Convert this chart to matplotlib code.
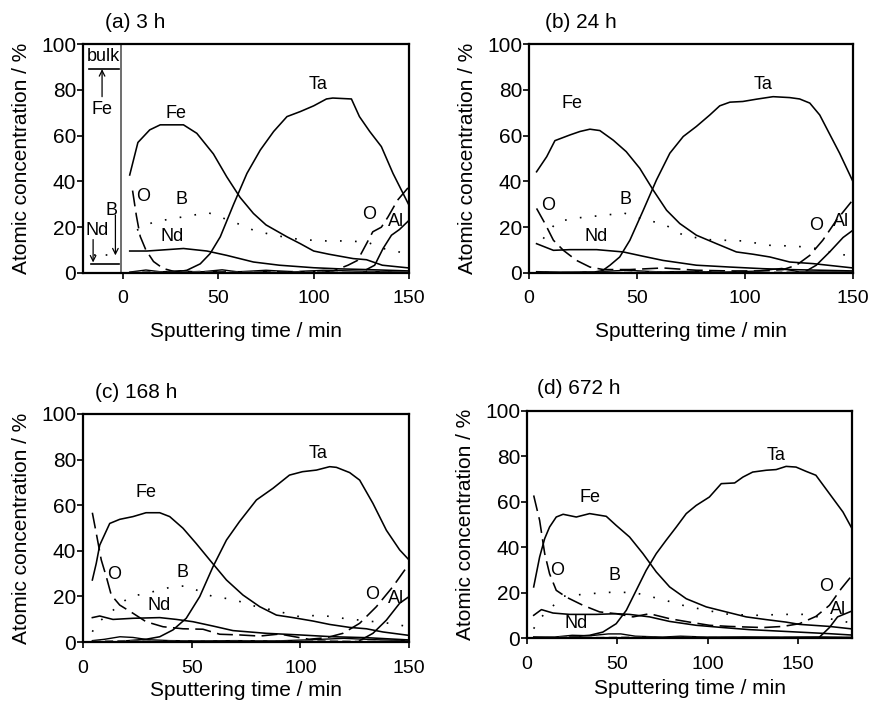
import matplotlib
matplotlib.use("Agg")
import matplotlib.pyplot as plt

plt.rcParams['font.family'] = ['Liberation Sans', 'DejaVu Sans']

# ---------------- Panel (a) 3 h ----------------
a_fe_t = [3.5, 7.8, 14, 19.5, 31.7, 38.7, 47.4, 54.4, 61.4, 68.4, 75, 86, 93, 100, 108, 120.7, 127.7, 136, 150]
a_fe_c = [42.8, 57, 62.5, 64.7, 64.7, 61, 52, 42, 33, 26, 21, 15.8, 12.8, 9.6, 8.2, 6.3, 5.8, 3.4, 2.2]
a_ta_t = [20, 27, 33.5, 40.5, 45.7, 51, 58, 65, 72, 79, 86, 93, 100, 106.7, 110, 119.8, 124, 129.4, 135.5, 141.6, 150]
a_ta_c = [0.5, 0.3, 1.2, 4, 8.5, 15.8, 30, 43.5, 53.7, 61.8, 68.3, 70.5, 73, 76, 76.4, 76, 68.3, 61.8, 55.2, 43.5, 29.6]
a_o_t = [5, 7, 9, 12, 16, 21, 27, 35, 50, 70, 90, 110, 118, 123, 127.7, 131, 135.5, 139, 144, 150]
a_o_c = [36, 25, 16, 10, 5, 2, 0.6, 0.4, 0.6, 0.5, 0.6, 0.8, 3.4, 5.5, 12.8, 18, 20, 24.5, 31.8, 37.7]
a_al_t = [127.7, 132, 136.4, 140.8, 145, 150]
a_al_c = [1.5, 3.4, 10.7, 16.5, 19, 23]
a_b_t = [7.3, 16, 26.5, 37, 44.8, 58, 68.4, 79, 93, 106.7, 115.5, 127.7, 136.4, 148.6]
a_b_c = [18.7, 22.3, 23.8, 25.3, 26.3, 22.3, 18.7, 16.5, 14.6, 14, 14, 13.6, 10.7, 8.5]
a_nd_t = [3.5, 12.6, 31.7, 44, 54.4, 68.4, 82, 100, 113.7, 127.7, 150]
a_nd_c = [9.6, 9.6, 10.7, 9.6, 7.7, 4.8, 3.4, 2.3, 1.8, 1.5, 0.9]
a_m1_t = [3.5, 12, 20, 30, 40, 52, 60, 75, 90, 105, 120, 135, 150]
a_m1_c = [0.4, 1.3, 0.5, 1.0, 0.4, 1.4, 0.5, 1.2, 0.5, 1.2, 0.9, 0.6, 0.3]
a_m2_t = [3.5, 15, 28, 40, 55, 70, 85, 100, 115, 130, 150]
a_m2_c = [0.2, 0.6, 0.2, 0.7, 0.3, 0.6, 0.2, 0.6, 0.3, 0.5, 0.2]
a_bulk_fe = 89
a_bulk_nd = 4.1
a_bulk_b = 7.7

# ---------------- Panel (b) 24 h ----------------
b_fe_t = [3.5, 8.2, 12, 19, 23.6, 28.2, 32.8, 39, 45, 51.3, 57.5, 63.7, 69.8, 77.5, 86.8, 96, 103.7, 111.5, 120.7, 131.5, 150]
b_fe_c = [44.2, 50.8, 57.8, 60.3, 61.8, 62.8, 62.2, 58, 53, 45.7, 36.2, 27.4, 21.6, 16.5, 12.8, 9.2, 8.2, 7, 4.8, 4.1, 2.2]
b_ta_t = [24, 30, 34, 37.5, 42, 46.7, 52.9, 59, 65.2, 71.4, 77.5, 83.7, 88.3, 93, 99, 105.3, 113, 120.7, 125.3, 130, 134.6, 139, 143.8, 150]
b_ta_c = [0.3, 0.4, 1.0, 3.4, 7, 14.3, 27.4, 40.6, 52.3, 59.6, 64, 69, 73, 74.6, 74.9, 75.9, 77, 76.6, 76, 74.2, 69, 61, 52.3, 39.9]
b_o_t = [3.5, 7.4, 11.3, 15.9, 22, 28.2, 34.4, 46.7, 62, 77.5, 93, 108, 117.6, 123.8, 130, 136, 142.3, 150]
b_o_c = [28.2, 21.6, 14.3, 9.9, 5.5, 2.6, 1.5, 1.5, 2.2, 1.2, 0.9, 0.9, 1.5, 3.4, 7.7, 14.3, 23, 32]
b_al_t = [128.4, 133, 139.2, 145.4, 150]
b_al_c = [0.9, 3.4, 9.2, 15.5, 18.7]
b_b_t = [6.6, 12.8, 20.5, 26.7, 36, 43.6, 54.4, 62, 71.4, 82, 99, 111.5, 123.8, 133, 142, 150]
b_b_c = [15, 22.3, 23.8, 24.5, 25.3, 26.3, 23, 21.6, 16.5, 14.6, 14, 12.1, 11.7, 10.7, 8.5, 7.3]
b_nd_t = [3.5, 11.3, 19, 31.3, 43.6, 52.9, 62, 77.5, 93, 108, 120.7, 150]
b_nd_c = [12.8, 9.9, 10.2, 10.2, 9.2, 7.3, 5.5, 3.4, 2.6, 1.9, 1.5, 0.9]
b_m1_t = [3.5, 15, 30, 45, 60, 75, 90, 105, 117, 125, 150]
b_m1_c = [0.6, 0.4, 0.5, 1.2, 0.5, 0.7, 0.4, 0.8, 2.0, 0.5, 0.4]
b_m2_t = [3.5, 20, 40, 55, 70, 85, 100, 120, 150]
b_m2_c = [0.2, 0.4, 0.2, 0.5, 0.2, 0.4, 0.2, 0.4, 0.2]

# ---------------- Panel (c) 168 h ----------------
c_fe_t = [4.3, 6.1, 7.7, 12.3, 16.9, 23, 29, 35.3, 39.9, 46, 52, 58.3, 66, 73.6, 81.3, 89, 96.6, 105.8, 113.5, 122.7, 130.4, 138, 150]
c_fe_c = [27.2, 34.5, 42.5, 52, 53.8, 55, 56.7, 56.7, 55, 49.9, 43.3, 36, 27.2, 20.6, 15.5, 11.8, 10.7, 9.2, 7.7, 6.4, 5.8, 4.4, 2.9]
c_ta_t = [20, 29, 35.3, 41.4, 47.5, 53.7, 59.8, 66, 72, 79.8, 87.4, 95, 101, 107.4, 113.5, 116.6, 122.7, 127.3, 133.4, 139.6, 145.7, 150]
c_ta_c = [0.5, 1.2, 2.3, 5.3, 10.4, 19.9, 33, 44.7, 52.8, 62.3, 67.4, 73.2, 74.7, 75.4, 76.9, 76.6, 74.3, 71, 60.8, 49, 40.4, 36]
c_o_t = [4.3, 6.4, 8.4, 10.7, 13, 16.9, 23, 29, 36.8, 46, 55.2, 62.9, 72, 81.3, 90.5, 99.7, 104, 112, 119.6, 127.3, 135, 142.6, 150]
c_o_c = [56.7, 46.2, 36, 28.7, 20.6, 16.2, 12.6, 8.9, 6.7, 5.8, 5.6, 3.4, 3.1, 2.6, 3.5, 1.9, 1.2, 1.9, 3.8, 8.2, 15.5, 24.3, 34.2]
c_al_t = [127.3, 133.4, 139.6, 145.7, 150]
c_al_c = [0.6, 3.8, 9.6, 17, 19.9]
c_b_t = [4.3, 6.5, 21.5, 29, 41.4, 47.5, 59.8, 69, 79.8, 87.4, 99.7, 109, 119.6, 127.3, 141, 150]
c_b_c = [4.5, 8.2, 19.9, 21.3, 24.3, 24.6, 19.9, 18.7, 15.5, 14, 11.1, 11.8, 10.4, 9.6, 8.2, 6.7]
c_nd_t = [4.3, 7.7, 13.8, 23, 35.3, 43, 50.6, 59.8, 69, 84.4, 99.7, 115, 130.4, 150]
c_nd_c = [10.7, 11.4, 9.9, 10.4, 10.7, 9.9, 8.9, 7, 5, 3.8, 3.1, 2.3, 1.9, 0.9]
c_m1_t = [4.3, 10, 17, 23, 30, 40, 55, 70, 90, 105, 120, 135, 150]
c_m1_c = [0.6, 1.2, 2.3, 2.0, 1.0, 0.6, 0.5, 0.6, 0.5, 1.0, 1.6, 1.0, 0.6]
c_m2_t = [4.3, 20, 35, 50, 65, 80, 95, 110, 125, 150]
c_m2_c = [0.3, 0.6, 0.3, 0.5, 0.3, 0.5, 0.3, 0.5, 0.3, 0.3]

# ---------------- Panel (d) 672 h ----------------
d_fe_t = [3.7, 7, 9.8, 12.5, 16.2, 20, 27.3, 34.7, 43.9, 49.4, 56.8, 64.2, 71.6, 79, 88.2, 99.3, 110.3, 121.4, 132.5, 143.5, 150.9, 158.3, 167.5, 180]
d_fe_c = [22.5, 35.7, 43.8, 48.9, 53.3, 54.5, 53.3, 54.8, 53.6, 49.6, 44.5, 37.2, 29.1, 22.5, 17.3, 13.7, 11.5, 9.3, 8.1, 7, 6, 5.6, 5.1, 4]
d_ta_t = [23.6, 34.7, 42, 49.4, 55, 60.5, 66, 71.6, 77, 82.7, 88.2, 93.7, 101, 107.6, 115, 119.6, 125, 132.5, 138, 143.5, 149, 154.6, 160, 167.5, 175, 180]
d_ta_c = [0.4, 1.2, 2.6, 6.3, 12.2, 21, 29.8, 37.2, 43, 48.9, 54.8, 58.4, 62.1, 68, 68.3, 70.9, 73.1, 73.9, 74.2, 75.6, 75.3, 73.4, 71.7, 63.6, 55.5, 48.2]
d_o_t = [3.7, 7, 9.8, 12.5, 16.2, 21.8, 31, 40.2, 49.4, 58.7, 67.9, 79, 90, 101, 112, 123, 130.6, 141.7, 150.9, 160, 167.5, 174, 180]
d_o_c = [62.8, 51.8, 37.2, 28.3, 21, 18, 14.4, 11.5, 10.7, 9.3, 10.7, 8.5, 7, 5.6, 5.1, 4.8, 4.6, 5.1, 6.3, 9.5, 14.4, 21.7, 27.6]
d_al_t = [162, 167.5, 172, 180]
d_al_c = [0.4, 4.6, 9.3, 11.9]
d_b_t = [3.7, 7, 20, 34.7, 49.4, 60.5, 75.3, 86.3, 99.3, 112, 127, 141.7, 152.8, 167.5, 180]
d_b_c = [4.1, 8.5, 18.4, 19.5, 20.3, 19.8, 16.9, 14.4, 12.2, 10.4, 10, 10.4, 10.4, 8.5, 6.6]
d_nd_t = [3.7, 8, 14.4, 23.6, 38.4, 49.4, 56.8, 67.9, 79, 93.7, 108.5, 123, 138, 152.8, 167.5, 180]
d_nd_c = [10, 12.5, 11, 10.4, 10.4, 10.7, 10.4, 9.3, 7.3, 5.6, 4.6, 3.7, 3.1, 2.5, 1.9, 1.3]
d_m1_t = [3.7, 15, 25, 35, 45, 52, 60, 75, 85, 100, 120, 140, 160, 180]
d_m1_c = [0.5, 0.4, 1.2, 1.0, 1.8, 1.8, 0.8, 0.4, 0.8, 0.4, 0.5, 0.4, 0.5, 0.3]
d_m2_t = [3.7, 20, 40, 60, 80, 100, 120, 140, 160, 180]
d_m2_c = [0.2, 0.5, 0.2, 0.4, 0.2, 0.4, 0.2, 0.3, 0.2, 0.2]

titles = ["(a) 3 h", "(b) 24 h", "(c) 168 h", "(d) 672 h"]
xlims = [(-21, 150), (0, 150), (0, 150), (0, 180)]
xticks = [[0, 50, 100, 150], [0, 50, 100, 150], [0, 50, 100, 150], [0, 50, 100, 150]]
yticks = [0, 20, 40, 60, 80, 100]

W, H = 871, 702
fig = plt.figure(figsize=(W / 100, H / 100), dpi=100)

def rect(l, r, t, b):
    return [l / W, 1 - b / H, (r - l) / W, (b - t) / H]

axes_px = [(83, 409, 44, 273), (529, 853, 44, 273), (83, 409, 414, 642), (527, 852, 411, 638)]
title_px = [(105, 22), (545, 22), (95, 392), (537, 388)]
xtick_pad = [8, 8, 9, 9]
xlabel_pad = [11, 11, 3, 4]

panels = [
    dict(fe=(a_fe_t, a_fe_c), ta=(a_ta_t, a_ta_c), o=(a_o_t, a_o_c), al=(a_al_t, a_al_c),
         b=(a_b_t, a_b_c), nd=(a_nd_t, a_nd_c), m1=(a_m1_t, a_m1_c), m2=(a_m2_t, a_m2_c),
         labels=[("Fe", 27.9, 69.8), ("Ta", 102.4, 82.2), ("O", 10.8, 33.3), ("B", 30.9, 32),
                 ("Nd", 25.6, 15.8), ("O", 129, 25.7), ("Al", 143.4, 22.3)]),
    dict(fe=(b_fe_t, b_fe_c), ta=(b_ta_t, b_ta_c), o=(b_o_t, b_o_c), al=(b_al_t, b_al_c),
         b=(b_b_t, b_b_c), nd=(b_nd_t, b_nd_c), m1=(b_m1_t, b_m1_c), m2=(b_m2_t, b_m2_c),
         labels=[("Fe", 19.7, 73.9), ("Ta", 108.4, 82.2), ("O", 8.9, 29.6), ("B", 44.9, 32.1),
                 ("Nd", 31.3, 15.8), ("O", 133, 20.9), ("Al", 144.6, 22.3)]),
    dict(fe=(c_fe_t, c_fe_c), ta=(c_ta_t, c_ta_c), o=(c_o_t, c_o_c), al=(c_al_t, c_al_c),
         b=(c_b_t, c_b_c), nd=(c_nd_t, c_nd_c), m1=(c_m1_t, c_m1_c), m2=(c_m2_t, c_m2_c),
         labels=[("Fe", 29.1, 65.5), ("Ta", 108.1, 82.5), ("O", 14.3, 29.4), ("B", 45.7, 30.6),
                 ("Nd", 35, 15.8), ("O", 133.1, 21), ("Al", 144.2, 19.2)]),
    dict(fe=(d_fe_t, d_fe_c), ta=(d_ta_t, d_ta_c), o=(d_o_t, d_o_c), al=(d_al_t, d_al_c),
         b=(d_b_t, d_b_c), nd=(d_nd_t, d_nd_c), m1=(d_m1_t, d_m1_c), m2=(d_m2_t, d_m2_c),
         labels=[("Fe", 34.7, 61.7), ("Ta", 138, 80.5), ("O", 16.8, 29.8), ("B", 48.5, 27.6),
                 ("Nd", 27.3, 6.3), ("O", 165.7, 22.8), ("Al", 172, 12.5)]),
]

lw = 1.15
for i, p in enumerate(panels):
    ax = fig.add_axes(rect(*axes_px[i]))
    ax.plot(*p["fe"], color="black", lw=lw)
    ax.plot(*p["ta"], color="black", lw=lw)
    ax.plot(*p["nd"], color="black", lw=lw)
    ax.plot(*p["al"], color="black", lw=lw)
    ax.plot(*p["o"], color="black", lw=lw, linestyle=(0, (10, 4)))
    ax.plot(*p["b"], color="black", lw=1.2, linestyle=(0, (1, 8)))
    ax.plot(*p["m1"], color="black", lw=1.0)
    ax.plot(*p["m2"], color="#444444", lw=1.0, linestyle=(0, (6, 3)))
    for txt, x, y in p["labels"]:
        ax.text(x, y, txt, fontsize=13, ha="center", va="center")
    ax.set_xlim(*xlims[i])
    ax.set_ylim(0, 100)
    ax.set_xticks(xticks[i])
    ax.set_yticks(yticks)
    ax.tick_params(axis="both", direction="out", length=4, width=1.2)
    ax.tick_params(axis="x", pad=xtick_pad[i], labelsize=14)
    ax.tick_params(axis="y", pad=1, labelsize=15)
    for s in ax.spines.values():
        s.set_linewidth(1.6)
    ax.set_xlabel("Sputtering time / min", fontsize=15, labelpad=xlabel_pad[i])
    ax.set_ylabel("Atomic concentration / %", fontsize=15, labelpad=7)
    fig.text(title_px[i][0] / W, 1 - title_px[i][1] / H, titles[i], fontsize=15,
             ha="left", va="center")
    if i == 0:
        # bulk composition box
        ax.axvline(-1, color="#555555", lw=1.2)
        ax.plot([-18, -2.3], [a_bulk_fe, a_bulk_fe], color="black", lw=1.2)
        ax.plot([-16.7, -2.3], [a_bulk_nd, a_bulk_nd], color="black", lw=1.2)
        ax.plot([-15, -5], [a_bulk_b, a_bulk_b], color="black", lw=1.2, linestyle=(0, (1, 6)))
        ax.text(-10.5, 94.6, "bulk", fontsize=13, ha="center", va="center")
        ax.text(-11, 71.2, "Fe", fontsize=13, ha="center", va="center")
        ax.text(-5.8, 27.4, "B", fontsize=13, ha="center", va="center")
        ax.text(-13.5, 18.7, "Nd", fontsize=13, ha="center", va="center")
        arr = dict(arrowstyle="->", color="black", lw=0.9, shrinkA=0, shrinkB=0)
        ax.annotate("", xy=(-11, a_bulk_fe), xytext=(-11, 77), arrowprops=arr)
        ax.annotate("", xy=(-15.7, a_bulk_nd + 0.5), xytext=(-15.7, 14.6), arrowprops=arr)
        ax.annotate("", xy=(-4, a_bulk_b), xytext=(-4, 25.3), arrowprops=arr)

fig.savefig("out.png", dpi=100)
